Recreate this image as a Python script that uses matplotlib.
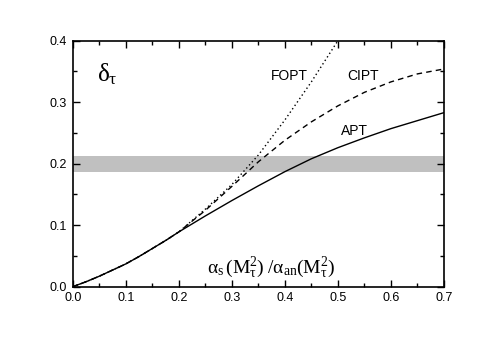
import matplotlib
matplotlib.use("Agg")
import matplotlib.pyplot as plt
from matplotlib.ticker import MultipleLocator

plt.rcParams['font.family'] = ['Liberation Sans', 'DejaVu Sans']
plt.rcParams['mathtext.fontset'] = 'custom'
plt.rcParams['mathtext.rm'] = 'Liberation Serif'
plt.rcParams['mathtext.it'] = 'Liberation Serif'
plt.rcParams['mathtext.bf'] = 'Liberation Serif:bold'

# Data
x_apt = [0.0, 0.025, 0.05, 0.075, 0.1, 0.125, 0.15, 0.175, 0.2, 0.25, 0.3, 0.35, 0.4,
         0.45, 0.5, 0.55, 0.6, 0.65, 0.7]
y_apt = [0.0, 0.008, 0.017, 0.027, 0.037, 0.049, 0.062, 0.075, 0.089, 0.115, 0.140, 0.164,
         0.187, 0.208, 0.226, 0.242, 0.257, 0.270, 0.283]

x_cipt = [0.0, 0.025, 0.05, 0.075, 0.1, 0.125, 0.15, 0.175, 0.2, 0.25, 0.3, 0.35, 0.4,
          0.45, 0.5, 0.55, 0.6, 0.65, 0.7]
y_cipt = [0.0, 0.008, 0.017, 0.027, 0.037, 0.049, 0.062, 0.075, 0.089, 0.124, 0.163, 0.203,
          0.238, 0.268, 0.294, 0.316, 0.333, 0.346, 0.354]

x_fopt = [0.0, 0.025, 0.05, 0.075, 0.1, 0.125, 0.15, 0.175, 0.2, 0.25, 0.3, 0.35, 0.4,
          0.45, 0.5]
y_fopt = [0.0, 0.008, 0.017, 0.027, 0.037, 0.049, 0.062, 0.075, 0.089, 0.126, 0.166, 0.214,
          0.271, 0.333, 0.4]

band = (0.187, 0.213)

fig = plt.figure(figsize=(4.96, 3.44), dpi=100)
ax = fig.add_axes([0.1466, 0.1666, 0.7484, 0.7151])

ax.axhspan(band[0], band[1], color='#c0c0c0', lw=0, zorder=0)
ax.plot(x_apt, y_apt, color='black', lw=1.0, ls='-')
ax.plot(x_cipt, y_cipt, color='black', lw=1.0, ls=(0, (4, 3)))
ax.plot(x_fopt, y_fopt, color='black', lw=1.0, ls=(0, (1, 2)))

ax.set_xlim(0, 0.7)
ax.set_ylim(0, 0.4)
ax.xaxis.set_major_locator(MultipleLocator(0.1))
ax.xaxis.set_minor_locator(MultipleLocator(0.05))
ax.yaxis.set_major_locator(MultipleLocator(0.1))
ax.yaxis.set_minor_locator(MultipleLocator(0.05))
ax.xaxis.set_major_formatter(plt.FormatStrFormatter('%.1f'))
ax.yaxis.set_major_formatter(plt.FormatStrFormatter('%.1f'))
ax.tick_params(which='both', direction='in', top=True, right=True, width=1.0)
ax.tick_params(which='major', length=5, labelsize=9, pad=4)
ax.tick_params(which='minor', length=3)
for s in ax.spines.values():
    s.set_linewidth(1.2)

ax.text(0.046, 0.333, r'$\delta_{\tau}$', fontsize=18, ha='left', va='baseline')
ax.text(0.374, 0.336, 'FOPT', fontsize=10, ha='left', va='baseline')
ax.text(0.517, 0.336, 'CIPT', fontsize=10, ha='left', va='baseline')
ax.text(0.506, 0.247, 'APT', fontsize=10, ha='left', va='baseline')
ax.text(0.253, 0.022, r'$\alpha_{\mathrm{s}}\,(\mathrm{M}_{\tau}^{2})\;/\alpha_{\mathrm{an}}(\mathrm{M}_{\tau}^{2})$',
        fontsize=14, ha='left', va='baseline')

fig.savefig('out.png', dpi=100)
